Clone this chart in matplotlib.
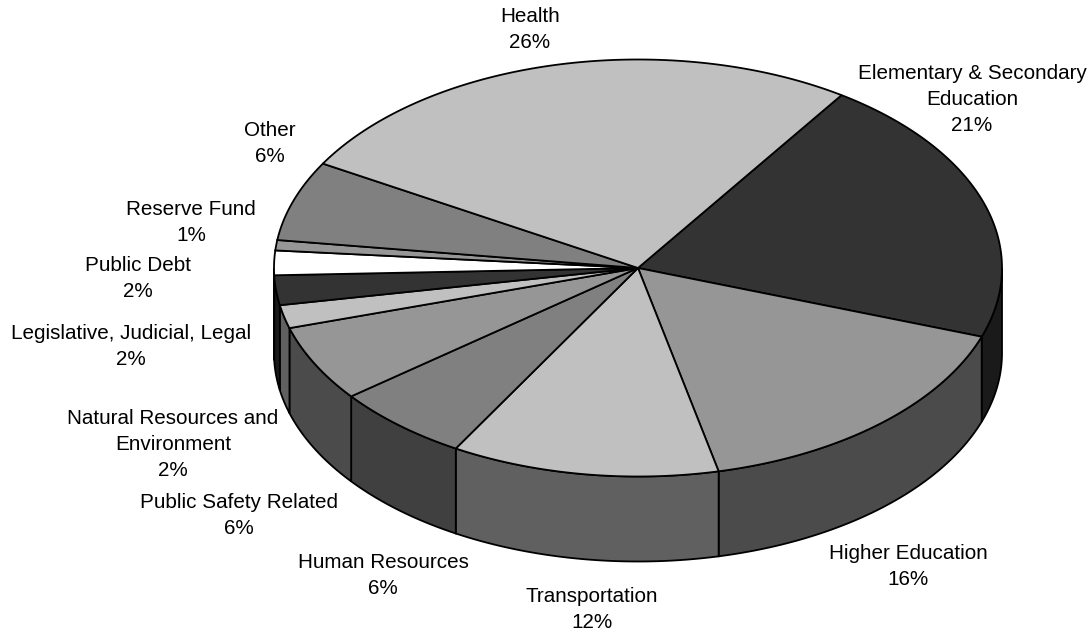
import numpy as np
from matplotlib import pyplot as plt
from matplotlib.patches import Polygon

# clockwise from the Health / Elementary boundary
labels = ['Elementary & Secondary\nEducation', 'Higher Education', 'Transportation', 'Human Resources',
          'Public Safety Related', 'Natural Resources and\nEnvironment', 'Legislative, Judicial, Legal',
          'Public Debt', 'Reserve Fund', 'Other', 'Health']
values = [20.9, 16.1, 11.9, 6.1, 5.9, 1.8, 2.3, 1.9, 0.8, 6.2, 26.1]
top_colors = ['#333333', '#969696', '#c0c0c0', '#808080', '#969696', '#c0c0c0', '#333333', '#ffffff', '#969696',
              '#808080', '#c0c0c0']
side_colors = ['#1a1a1a', '#4b4b4b', '#606060', '#404040', '#4b4b4b', '#606060', '#1a1a1a', '#808080', '#4b4b4b',
               '#404040', '#606060']
label_x = [972, 908, 592, 383, 239, 173, 131, 138, 191, 270, 530]
label_y = [99.5, 566.5, 609.5, 575.5, 515.5, 444.5, 346.5, 278.5, 222.5, 143.5, 29.5]

CX, CY = 638, 268
RX, RY = 364, 208.5
DEPTH = 85
START = 56


def rim(t0, t1):
    t = np.radians(np.linspace(t0, t1, max(2, int(abs(t1 - t0) * 2) + 1)))
    return np.column_stack([CX + RX * np.cos(t), CY - RY * np.sin(t)])


fig = plt.figure(figsize=(10.91, 6.32), dpi=100)
ax = fig.add_axes([0, 0, 1, 1])
ax.set_xlim(0, 1091)
ax.set_ylim(632, 0)
ax.axis('off')

edges = START - np.cumsum([0] + values) * 3.6

# sides first, only the part on the front of the ellipse
for i in range(len(values)):
    a, b = max(edges[i + 1], -180), min(edges[i], 0)
    if a < b:
        p = rim(a, b)
        pts = np.vstack([p, (p + [0, DEPTH])[::-1]])
        ax.add_patch(Polygon(pts, closed=True, facecolor=side_colors[i], edgecolor='black', lw=1.3))

for i in range(len(values)):
    pts = np.vstack([[CX, CY], rim(edges[i], edges[i + 1])])
    ax.add_patch(Polygon(pts, closed=True, facecolor=top_colors[i], edgecolor='black', lw=1.3))

for name, v, x, y in zip(labels, values, label_x, label_y):
    ax.text(x, y, f'{name}\n{max(round(v), 1)}%', ha='center', va='center', family='Liberation Sans',
            fontsize=14.9, linespacing=1.45, color='black')

plt.savefig('out.png', dpi=100)
